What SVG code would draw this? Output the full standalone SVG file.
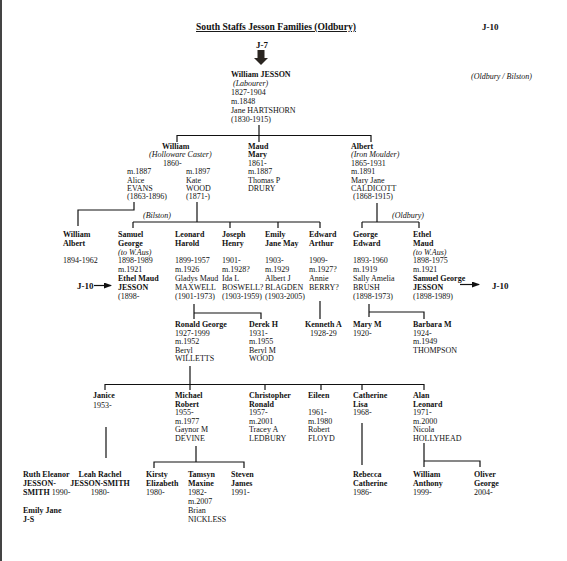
<svg xmlns="http://www.w3.org/2000/svg" width="567" height="561" viewBox="0 0 567 561">
<style>
text{font-family:"Liberation Serif","Times New Roman",serif;font-size:8px;fill:#111}
.b{font-weight:bold}
.i{font-style:italic}
.title{font-size:9.6px;font-weight:bold;text-decoration:underline}
.ref{font-size:9px;font-weight:bold}
.c line,.c polyline{stroke:#111;stroke-width:1.2;fill:none}
</style>
<defs>
<marker id="ah" markerWidth="8" markerHeight="6" refX="7" refY="3" orient="auto" markerUnits="userSpaceOnUse"><polygon points="0,0 8,3 0,6" fill="#111"/></marker>
</defs>
<rect width="567" height="561" fill="#fff"/>
<rect x="0" y="0" width="2" height="561" fill="#444"/>
<text class="title" x="196" y="30">South Staffs Jesson Families  (Oldbury)</text>
<text class="ref" x="482" y="30">J-10</text>
<text class="i" x="471" y="79">(Oldbury / Bilston)</text>
<g id="j7">
<text class="ref" x="256" y="48">J-7</text>
<rect x="257.5" y="50" width="7" height="8" fill="#2a2520"/>
<polygon points="254,58 268,58 261,65" fill="#2a2520"/>
</g>
<g class="c" id="connectors">
<line x1="259" y1="125" x2="259" y2="142"/>
<line x1="177" y1="135.5" x2="371" y2="135.5"/>
<line x1="177" y1="135" x2="177" y2="142"/>
<line x1="371" y1="135" x2="371" y2="142"/>
<polyline points="134,202 134,210 78,210 78,226"/>
<line x1="197" y1="202" x2="197" y2="222"/>
<line x1="133" y1="222" x2="320" y2="222"/>
<line x1="133" y1="222" x2="133" y2="228"/>
<line x1="230" y1="222" x2="230" y2="228"/>
<line x1="278" y1="222" x2="278" y2="228"/>
<line x1="320" y1="222" x2="320" y2="228"/>
<line x1="377" y1="203" x2="377" y2="222"/>
<line x1="362" y1="222" x2="419" y2="222"/>
<line x1="362" y1="222" x2="362" y2="228"/>
<line x1="419" y1="222" x2="419" y2="228"/>
<line x1="94" y1="285.5" x2="111" y2="285.5" marker-end="url(#ah)"/>
<line x1="460" y1="284.5" x2="479" y2="284.5" marker-end="url(#ah)"/>
<line x1="194" y1="304" x2="194" y2="319"/>
<polyline points="194,313 261,313 261,319"/>
<line x1="320" y1="301" x2="320" y2="319"/>
<line x1="369" y1="304" x2="369" y2="317"/>
<polyline points="369,312 424,312 424,319"/>
<line x1="190" y1="366" x2="190" y2="390"/>
<line x1="105" y1="384.5" x2="424" y2="384.5"/>
<line x1="105" y1="384" x2="105" y2="390"/>
<line x1="265" y1="384" x2="265" y2="390"/>
<line x1="321" y1="384" x2="321" y2="390"/>
<line x1="362" y1="384" x2="362" y2="390"/>
<line x1="424" y1="384" x2="424" y2="390"/>
<line x1="106" y1="427" x2="106" y2="458"/>
<line x1="196" y1="446" x2="196" y2="462"/>
<polyline points="154,468 154,462 244,462 244,468"/>
<line x1="362" y1="423" x2="362" y2="465"/>
<line x1="424" y1="443" x2="424" y2="467"/>
<polyline points="424,461 480,461 480,467"/>
</g>
<g id="william-jesson">
<text x="231" y="77" class="b">William JESSON</text>
<text x="233" y="86" class="i">(Labourer)</text>
<text x="231" y="95">1827-1904</text>
<text x="231" y="104">m.1848</text>
<text x="231" y="113">Jane HARTSHORN</text>
<text x="231" y="122">(1830-1915)</text>
</g>
<g id="william">
<text x="162" y="149" class="b">William</text>
<text x="149" y="157.4" class="i">(Holloware Caster)</text>
<text x="163" y="165.8">1860-</text>
<text x="127" y="174.2">m.1887</text>
<text x="127" y="182.6">Alice</text>
<text x="127" y="191">EVANS</text>
<text x="127" y="199.4">(1863-1896)</text>
<text x="186" y="174.2">m.1897</text>
<text x="186" y="182.6">Kate</text>
<text x="186" y="191">WOOD</text>
<text x="186" y="199.4">(1871-)</text>
</g>
<g id="maud">
<text x="248" y="149" class="b">Maud</text>
<text x="248" y="157.4" class="b">Mary</text>
<text x="248" y="165.8">1861-</text>
<text x="248" y="174.2">m.1887</text>
<text x="248" y="182.6">Thomas P</text>
<text x="248" y="191">DRURY</text>
</g>
<g id="albert">
<text x="351" y="149" class="b">Albert</text>
<text x="351" y="157.4" class="i">(Iron Moulder)</text>
<text x="351" y="165.8">1865-1931</text>
<text x="351" y="174.2">m.1891</text>
<text x="351" y="182.6">Mary Jane</text>
<text x="351" y="191">CALDICOTT</text>
<text x="353" y="199.4">(1868-1915)</text>
</g>
<text class="i" x="143" y="218">(Bilston)</text>
<text class="i" x="392" y="218">(Oldbury)</text>
<g id="william-albert">
<text x="63" y="237" class="b">William</text>
<text x="63" y="245.8" class="b">Albert</text>
<text x="63" y="263.4">1894-1962</text>
</g>
<text class="ref" x="77" y="289">J-10</text>
<g id="samuel-george">
<text x="118" y="237" class="b">Samuel</text>
<text x="118" y="245.8" class="b">George</text>
<text x="118" y="254.6" class="i">(to W.Aus)</text>
<text x="118" y="263.4">1898-1989</text>
<text x="118" y="272.2">m.1921</text>
<text x="118" y="281" class="b">Ethel Maud</text>
<text x="118" y="289.8" class="b">JESSON</text>
<text x="118" y="298.6">(1898-</text>
</g>
<g id="leonard-harold">
<text x="175" y="237" class="b">Leonard</text>
<text x="175" y="245.8" class="b">Harold</text>
<text x="175" y="263.4">1899-1957</text>
<text x="175" y="272.2">m.1926</text>
<text x="175" y="281">Gladys Maud</text>
<text x="175" y="289.8">MAXWELL</text>
<text x="175" y="298.6">(1901-1973)</text>
</g>
<g id="joseph-henry">
<text x="222" y="237" class="b">Joseph</text>
<text x="222" y="245.8" class="b">Henry</text>
<text x="222" y="263.4">1901-</text>
<text x="222" y="272.2">m.1928?</text>
<text x="222" y="281">Ida L</text>
<text x="222" y="289.8">BOSWELL?</text>
<text x="222" y="298.6">(1903-1959)</text>
</g>
<g id="emily">
<text x="265" y="237" class="b">Emily</text>
<text x="265" y="245.8" class="b">Jane May</text>
<text x="265" y="263.4">1903-</text>
<text x="265" y="272.2">m.1929</text>
<text x="265" y="281">Albert J</text>
<text x="265" y="289.8">BLAGDEN</text>
<text x="265" y="298.6">(1903-2005)</text>
</g>
<g id="edward-arthur">
<text x="309" y="237" class="b">Edward</text>
<text x="309" y="245.8" class="b">Arthur</text>
<text x="309" y="263.4">1909-</text>
<text x="309" y="272.2">m.1927?</text>
<text x="309" y="281">Annie</text>
<text x="309" y="289.8">BERRY?</text>
</g>
<g id="george-edward">
<text x="353" y="237" class="b">George</text>
<text x="353" y="245.8" class="b">Edward</text>
<text x="353" y="263.4">1893-1960</text>
<text x="353" y="272.2">m.1919</text>
<text x="353" y="281">Sally Amelia</text>
<text x="353" y="289.8">BRUSH</text>
<text x="353" y="298.6">(1898-1973)</text>
</g>
<g id="ethel-maud">
<text x="413" y="237" class="b">Ethel</text>
<text x="413" y="245.8" class="b">Maud</text>
<text x="413" y="254.6" class="i">(to W.Aus)</text>
<text x="413" y="263.4">1898-1975</text>
<text x="413" y="272.2">m.1921</text>
<text x="413" y="281" class="b">Samuel George</text>
<text x="413" y="289.8" class="b">JESSON</text>
<text x="413" y="298.6">(1898-1989)</text>
</g>
<text class="ref" x="492" y="289">J-10</text>
<g id="ronald-george">
<text x="175" y="327" class="b">Ronald George</text>
<text x="175" y="335.6">1927-1999</text>
<text x="175" y="344.2">m.1952</text>
<text x="175" y="352.8">Beryl</text>
<text x="175" y="361.4">WILLETTS</text>
</g>
<g id="derek">
<text x="249" y="327" class="b">Derek H</text>
<text x="249" y="335.6">1931-</text>
<text x="249" y="344.2">m.1955</text>
<text x="249" y="352.8">Beryl M</text>
<text x="249" y="361.4">WOOD</text>
</g>
<g id="kenneth">
<text x="305" y="327" class="b">Kenneth A</text>
<text x="310" y="335.6">1928-29</text>
</g>
<g id="mary">
<text x="353" y="327" class="b">Mary M</text>
<text x="353" y="335.6">1920-</text>
</g>
<g id="barbara">
<text x="413" y="327" class="b">Barbara M</text>
<text x="413" y="335.6">1924-</text>
<text x="413" y="344.2">m.1949</text>
<text x="413" y="352.8">THOMPSON</text>
</g>
<g id="janice">
<text x="93" y="398" class="b">Janice</text>
<text x="93" y="408">1953-</text>
</g>
<g id="michael">
<text x="175" y="398" class="b">Michael</text>
<text x="175" y="406.6" class="b">Robert</text>
<text x="175" y="415.2">1955-</text>
<text x="175" y="423.8">m.1977</text>
<text x="175" y="432.4">Gaynor M</text>
<text x="175" y="441">DEVINE</text>
</g>
<g id="christopher">
<text x="249" y="398" class="b">Christopher</text>
<text x="249" y="406.6" class="b">Ronald</text>
<text x="249" y="415.2">1957-</text>
<text x="249" y="423.8">m.2001</text>
<text x="249" y="432.4">Tracey A</text>
<text x="249" y="441">LEDBURY</text>
</g>
<g id="eileen">
<text x="308" y="398" class="b">Eileen</text>
<text x="308" y="415.2">1961-</text>
<text x="308" y="423.8">m.1980</text>
<text x="308" y="432.4">Robert</text>
<text x="308" y="441">FLOYD</text>
</g>
<g id="catherine">
<text x="353" y="398" class="b">Catherine</text>
<text x="353" y="406.6" class="b">Lisa</text>
<text x="353" y="415.2">1968-</text>
</g>
<g id="alan">
<text x="413" y="398" class="b">Alan</text>
<text x="413" y="406.6" class="b">Leonard</text>
<text x="413" y="415.2">1971-</text>
<text x="413" y="423.8">m.2000</text>
<text x="413" y="432.4">Nicola</text>
<text x="413" y="441">HOLLYHEAD</text>
</g>
<g id="ruth">
<text x="23" y="477" class="b">Ruth Eleanor</text>
<text x="23" y="486" class="b">JESSON-</text>
<text x="23" y="495"><tspan class="b">SMITH</tspan> 1990-</text>
</g>
<g id="emily-jane">
<text x="23" y="513" class="b">Emily Jane</text>
<text x="23" y="522" class="b">J-S</text>
</g>
<g id="leah">
<text x="100" y="477" class="b" text-anchor="middle">Leah Rachel</text>
<text x="100" y="486" class="b" text-anchor="middle">JESSON-SMITH</text>
<text x="100" y="495" text-anchor="middle">1980-</text>
</g>
<g id="kirsty">
<text x="146" y="477" class="b">Kirsty</text>
<text x="146" y="486" class="b">Elizabeth</text>
<text x="146" y="495">1980-</text>
</g>
<g id="tamsyn">
<text x="188" y="477" class="b">Tamsyn</text>
<text x="188" y="486" class="b">Maxine</text>
<text x="188" y="495">1982-</text>
<text x="188" y="504">m.2007</text>
<text x="188" y="513">Brian</text>
<text x="188" y="522">NICKLESS</text>
</g>
<g id="steven">
<text x="231" y="477" class="b">Steven</text>
<text x="231" y="486" class="b">James</text>
<text x="231" y="495">1991-</text>
</g>
<g id="rebecca">
<text x="353" y="477" class="b">Rebecca</text>
<text x="353" y="486" class="b">Catherine</text>
<text x="353" y="495">1986-</text>
</g>
<g id="william-anthony">
<text x="413" y="477" class="b">William</text>
<text x="413" y="486" class="b">Anthony</text>
<text x="413" y="495">1999-</text>
</g>
<g id="oliver">
<text x="474" y="477" class="b">Oliver</text>
<text x="474" y="486" class="b">George</text>
<text x="474" y="495">2004-</text>
</g>
</svg>
